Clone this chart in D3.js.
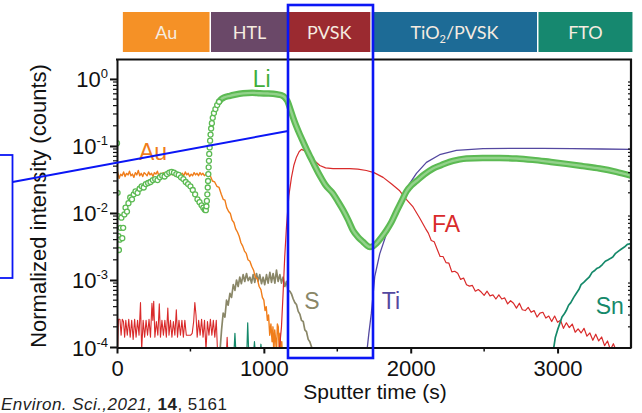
<!DOCTYPE html>
<html><head><meta charset="utf-8">
<script src="https://cdn.jsdelivr.net/npm/d3@7"></script>
<style>
html,body{margin:0;padding:0;background:#fff;}
svg{display:block;}
text{font-family:"Liberation Sans",Arial,sans-serif;}
</style></head>
<body><svg id="c" width="642" height="413"></svg>
<script>
// ---------- data ----------
const layerNames = ["Au","HTL","PVSK","TiO2/PVSK","FTO"];
const layerStart = [40, 640, 1165, 1735, 2870];
const layerEnd   = [630, 1165, 1725, 2860, 3510];
const layerColors = ["#f59126","#6a4868","#9b2a30","#1d6b96","#16886f"];

const xTickValues = [0, 1000, 2000, 3000];
const xMinorTicks = [500, 1500, 2500];
const yTickExps = [0, -1, -2, -3, -4];

const liData = [
 [0,0.11],[4,0.02],[7,0.009],[10,0.0045],[13,0.0028],[18,0.004],[24,0.006],[30,0.0085],[36,0.0042],[42,0.006],
 [50,0.0095],[58,0.012],[68,0.0105],[78,0.014],[90,0.017],[102,0.016],[114,0.019],[126,0.021],[140,0.02],[154,0.023],
 [168,0.025],[182,0.024],[196,0.027],[212,0.028],[228,0.029],[244,0.031],[260,0.032],[276,0.031],[292,0.034],[308,0.036],
 [324,0.035],[340,0.038],[356,0.04],[372,0.041],[388,0.04],[404,0.038],[420,0.037],[436,0.034],[452,0.032],[468,0.029],
 [484,0.027],[500,0.025],[516,0.022],[532,0.019],[548,0.016],[562,0.0145],[576,0.013],[588,0.012],[598,0.0112],
 [605,0.011],[609,0.0126],[612,0.0151],[615,0.019],[618,0.024],[620,0.030],[622,0.038],[624,0.048],[626,0.060],[628,0.076],
 [631,0.095],[634,0.12],[637,0.148],[641,0.182],[646,0.219],[652,0.263],[660,0.309],[670,0.355],[682,0.407],[695,0.457],
 [710,0.50],[730,0.53],[769,0.56],[800,0.58],[859,0.61],[920,0.62],[973,0.61],[1030,0.605],[1086,0.59],[1120,0.57],
 [1143,0.53],[1160,0.47],[1180,0.355],[1200,0.263],[1220,0.20],[1245,0.148],[1270,0.112],[1295,0.085],[1320,0.066],[1345,0.051],
 [1370,0.040],[1395,0.032],[1420,0.026],[1471,0.0195],[1505,0.0148],[1540,0.011],[1575,0.0078],[1607,0.0055],[1640,0.0044],[1676,0.0037],
 [1700,0.0033],[1721,0.0031],[1745,0.0032],[1766,0.0035],[1800,0.0043],[1835,0.0055],[1870,0.0074],[1903,0.0105],[1937,0.0148],[1971,0.021],
 [2005,0.026],[2039,0.030],[2095,0.038],[2152,0.046],[2210,0.052],[2265,0.058],[2320,0.062],[2379,0.065],[2490,0.066],[2605,0.066],
 [2720,0.065],[2832,0.062],[2945,0.058],[3059,0.054],[3170,0.050],[3286,0.046],[3400,0.041],[3500,0.036]
];

const auData = [
 [0,0.045],[5,0.04],[15,0.033],[25,0.038],[35,0.036],[45,0.041],[55,0.035],[65,0.039],[75,0.037],[85,0.042],
 [95,0.036],[105,0.038],[115,0.034],[125,0.04],[135,0.037],[145,0.043],[155,0.036],[165,0.039],[175,0.035],[185,0.04],
 [195,0.038],[205,0.036],[215,0.041],[225,0.037],[235,0.039],[245,0.035],[255,0.04],[265,0.038],[275,0.042],[285,0.036],
 [295,0.039],[305,0.037],[315,0.04],[325,0.035],[335,0.038],[345,0.041],[355,0.036],[365,0.039],[375,0.037],[385,0.04],
 [395,0.036],[405,0.038],[415,0.035],[425,0.04],[435,0.037],[445,0.039],[455,0.036],[465,0.041],[475,0.037],[485,0.039],
 [495,0.035],[505,0.038],[515,0.036],[525,0.04],[535,0.037],[545,0.039],[555,0.036],[565,0.04],[575,0.037],[585,0.039],
 [595,0.036],[605,0.038],[615,0.037],[625,0.039],[635,0.036],
 [650,0.03],[665,0.029],[680,0.025],[695,0.024],[710,0.019],[723,0.016],[735,0.0155],[747,0.012],[760,0.0105],[772,0.0098],
 [784,0.0078],[796,0.0072],[808,0.0058],[820,0.0052],[832,0.0045],[844,0.0036],[856,0.0032],[868,0.0027],[880,0.0025],[892,0.002],
 [905,0.0019],[917,0.0016],[930,0.0014],[942,0.0011],[955,0.00105],[968,0.0008],[980,0.00072],[990,0.00055],[1000,0.0005],[1008,0.00035],
 [1016,0.0004],[1024,0.00025],[1032,0.0003],[1040,0.00015],[1048,0.00022],[1056,0.00012],[1062,0.0002],[1068,0.00008],[1074,0.00018],[1080,0.00013],
 [1086,0.00008],[1092,0.00022],[1098,0.0002],[1104,0.00009],[1110,0.00016],[1116,0.00008],[1122,0.00012],[1128,0.00006]
];

const sData = [
 [700,0.00008],[712,0.00018],[723,0.00032],[735,0.00028],[746,0.0005],[757,0.00042],[769,0.00063],[780,0.00055],[792,0.00085],[803,0.0007],
 [814,0.001],[825,0.0008],[836,0.0011],[847,0.00088],[859,0.0012],[870,0.00095],[882,0.00125],[893,0.00098],[905,0.0011],[916,0.0009],
 [927,0.0012],[938,0.00092],[950,0.00125],[961,0.00096],[972,0.0012],[984,0.00088],[995,0.0011],[1006,0.00085],[1018,0.0012],[1029,0.0009],
 [1041,0.0013],[1052,0.00092],[1063,0.00125],[1075,0.0009],[1086,0.0014],[1097,0.00095],[1109,0.0012],[1120,0.0009],[1131,0.0011],[1143,0.0008],
 [1154,0.00095],[1165,0.0007],[1177,0.00068],[1188,0.00062],[1200,0.00052],[1211,0.00046],[1222,0.00043],[1234,0.00034],[1245,0.00031],[1256,0.00025],
 [1268,0.00024],[1279,0.00018],[1290,0.00017],[1302,0.00013],[1313,0.00012],[1325,0.0001],[1340,0.00008]
];

const faData = [
 [0,0.0025],[4,0.00009],[10,0.00026],[20,0.00026],[28,0.00015],[36,0.00026],[44,0.00024],[52,0.00014],[60,0.00025],[70,0.00015],
 [80,0.00026],[90,0.00014],[100,0.00025],[110,0.00013],[120,0.00026],[130,0.00014],[140,0.00025],[150,0.00015],[160,0.00046],[168,0.00009],
 [178,0.00025],[188,0.00014],[198,0.00025],[208,0.00015],[218,0.00026],[228,0.00014],[238,0.00045],[244,0.00025],[250,0.00048],[258,0.00014],
 [268,0.00024],[278,0.00015],[288,0.00044],[296,0.00014],[306,0.00025],[316,0.00015],[326,0.00025],[336,0.00014],[346,0.00038],[354,0.00015],
 [364,0.00025],[374,0.00014],[384,0.00024],[394,0.00015],[404,0.00036],[412,0.00014],[422,0.00025],[432,0.00015],[442,0.00025],[452,0.00014],
 [462,0.00025],[472,0.00015],[482,0.00015],[492,0.00015],[502,0.00015],[512,0.00016],[522,0.00024],[530,0.00046],[538,0.0003],[546,0.00014],
 [556,0.00025],[566,0.00015],[576,0.00026],[586,0.00014],[596,0.00025],[606,0.00009],[616,0.00024],[626,0.00015],[636,0.00026],[646,0.00015],
 [656,0.00025],[666,0.00014],[676,0.00025],[684,0.00009],[700,0.00009],[746,0.00009],[750,0.00014],[754,0.00009],
 [1105,0.00009],[1120,0.0002],[1131,0.00063],[1142,0.0022],[1154,0.0062],[1170,0.018],[1188,0.034],[1205,0.052],[1222,0.068],[1240,0.082],
 [1256,0.089],[1280,0.084],[1313,0.072],[1345,0.060],[1381,0.051],[1420,0.047],[1471,0.046],[1530,0.046],[1585,0.046],[1640,0.045],
 [1698,0.043],[1750,0.040],[1812,0.034],[1870,0.027],[1925,0.0214],[1970,0.016],[2016,0.0123],[2060,0.0085],[2100,0.0059],
 [2120,0.0050],[2140,0.00389],[2160,0.00372],[2180,0.00288],[2200,0.00224],[2220,0.00224],[2240,0.00182],[2260,0.00178],[2280,0.00132],[2300,0.00135],
 [2320,0.00126],[2340,0.00102],[2360,0.00107],[2380,0.00085],[2400,0.00081],[2420,0.00083],[2440,0.00068],[2460,0.00072],[2480,0.00066],[2500,0.00059],
 [2520,0.00068],[2540,0.00058],[2560,0.0006],[2580,0.00052],[2600,0.0006],[2620,0.00052],[2640,0.00054],[2660,0.00044],[2680,0.00049],[2700,0.00045],
 [2720,0.00038],[2740,0.00045],[2760,0.00036],[2780,0.00035],[2800,0.00039],[2820,0.00033],[2840,0.00035],[2860,0.00028],[2880,0.00032],[2900,0.00033],
 [2920,0.00027],[2940,0.00029],[2960,0.00024],[2980,0.00029],[3000,0.000234],[3020,0.00025],[3040,0.00019],[3060,0.00023],[3080,0.000195],[3100,0.00022],
 [3120,0.000166],[3140,0.000186],[3160,0.000162],[3180,0.00019],[3200,0.000145],[3220,0.000162],[3240,0.000126],[3260,0.000155],[3280,0.000123],[3300,0.000141],
 [3320,0.000105],[3340,0.000123],[3360,0.000091],[3380,0.000112],[3400,0.000087]
];

const tiData = [
 [1700,0.00008],[1715,0.00016],[1732,0.00032],[1755,0.00112],[1789,0.00245],[1835,0.0049],[1880,0.0092],[1925,0.0155],[1959,0.0204],[1990,0.027],
 [2039,0.039],[2107,0.057],[2197,0.074],[2311,0.086],[2492,0.091],[2700,0.092],[2900,0.092],[3100,0.091],[3300,0.090],[3500,0.089]
];

const snData = [
 [2968,0.00008],[2985,0.00014],[3000,0.00018],[3014,0.00022],[3030,0.00028],[3045,0.00031],[3059,0.00035],[3075,0.00042],[3090,0.00046],[3110,0.00055],
 [3127,0.00063],[3145,0.00072],[3160,0.00085],[3178,0.00092],[3195,0.001],[3215,0.0011],[3235,0.0013],[3255,0.0014],[3270,0.0015],[3286,0.00155],
 [3305,0.0017],[3325,0.0019],[3345,0.002],[3360,0.0021],[3376,0.0022],[3395,0.0025],[3415,0.0027],[3435,0.0029],[3455,0.0031],[3475,0.0034],[3500,0.0035]
];
const snEarly = [
 [796,0.00008],[803,0.00016],[810,0.00008],[884,0.00008],[890,0.00023],[897,0.00008],[930,0.00008],[936,0.00012],[942,0.00008],[975,0.00008],[980,0.00011],[986,0.00008]
];

const labels = [
 {text:"Li", t:985, v:0.76, color:"#3fae3a"},
 {text:"Au", t:245, v:0.062, color:"#f07d1a"},
 {text:"S",  t:1327, v:0.00037, color:"#8a8768"},
 {text:"Ti", t:1865, v:0.00037, color:"#5448a0"},
 {text:"FA", t:2240, v:0.0052, color:"#d92b2b"},
 {text:"Sn", t:3356, v:0.00031, color:"#15896a"}
];

// ---------- chart ----------
const svg = d3.select("#c");
const x = d3.scaleLinear().domain([0, 3500]).range([117, 631]);
const y = d3.scaleLog().domain([1e-4, 1.95]).range([347, 59.5]);

svg.append("defs").append("clipPath").attr("id","clip")
  .append("rect").attr("x",117).attr("y",59.5).attr("width",514).attr("height",288);

// layer band
const band = svg.append("g");
layerNames.forEach((n,i)=>{
  const x0 = x(layerStart[i]), x1 = x(layerEnd[i]);
  band.append("rect").attr("x",x0).attr("y",12).attr("width",x1-x0).attr("height",40).attr("fill",layerColors[i]);
  const t = band.append("text").attr("x",(x0+x1)/2).attr("y",39).attr("text-anchor","middle")
    .attr("fill","#f6ece0").style("font-family","Lato, 'Open Sans', sans-serif").style("font-size","18px");
  if (n.startsWith("TiO2")) {
    t.append("tspan").text("TiO");
    t.append("tspan").text("2").attr("dy",4).style("font-size","11px");
    t.append("tspan").text("/PVSK").attr("dy",-4);
  } else t.text(n);
});

const g = svg.append("g").attr("clip-path","url(#clip)");
const line = d3.line().x(d=>x(d[0])).y(d=>y(d[1]));

function series(data, color, w) {
  g.append("path").datum(data).attr("d", line).attr("fill","none")
   .attr("stroke", color).attr("stroke-width", w).attr("stroke-linejoin","round");
}
series(faData.filter(d=>d[0]<800), "#d92b2b", 1.1);
series(snEarly, "#15896a", 1.2);
series(sData, "#8a8768", 1.7);
series(auData, "#f07d1a", 1.4);
series(faData.filter(d=>d[0]>=1100), "#d92b2b", 1.2);
series(snData, "#15896a", 1.7);
series(tiData, "#5448a0", 1.3);

// Li: dense part as thick band, sparse part as open circles
const liDense = liData.filter(d=>d[0]>=690);
const smooth = d3.line().x(d=>x(d[0])).y(d=>y(d[1])).curve(d3.curveMonotoneX);
g.append("path").datum(liDense).attr("d", smooth).attr("fill","none")
  .attr("stroke","#5cba53").attr("stroke-width",6.5).attr("stroke-linecap","round");
g.append("path").datum(liDense).attr("d", smooth).attr("fill","none")
  .attr("stroke","#93d28b").attr("stroke-width",2.4).attr("stroke-linecap","round");
g.selectAll("circle.li").data(liData.filter(d=>d[0]<700)).enter().append("circle")
  .attr("cx",d=>x(d[0])).attr("cy",d=>y(d[1])).attr("r",2.5)
  .attr("fill","#fff").attr("stroke","#5cba53").attr("stroke-width",1.3);

// axes frame
svg.append("line").attr("x1",116).attr("x2",632).attr("y1",59.5).attr("y2",59.5).attr("stroke","#111").attr("stroke-width",2);
svg.append("line").attr("x1",631).attr("x2",631).attr("y1",59).attr("y2",348).attr("stroke","#111").attr("stroke-width",2.2);

const xAxis = svg.append("g").attr("transform","translate(0,347.5)")
  .call(d3.axisBottom(x).tickValues(xTickValues).tickSize(6).tickFormat(d3.format("d")).tickSizeOuter(0));
xAxis.select(".domain").attr("stroke-width",2).attr("stroke","#111");
xAxis.selectAll(".tick line").attr("stroke-width",2).attr("stroke","#111");
xAxis.selectAll("text").style("font-size","22px").attr("fill","#111").attr("dy","0").attr("y",28);
xMinorTicks.forEach(t=>svg.append("line").attr("x1",x(t)).attr("x2",x(t)).attr("y1",347.5).attr("y2",351.5).attr("stroke","#111").attr("stroke-width",1.5));

// y axis
const yAxis = svg.append("g").attr("transform","translate(117,0)")
  .call(d3.axisLeft(y).tickValues(yTickExps.map(e=>Math.pow(10,e))).tickSize(7).tickFormat("").tickSizeOuter(0));
yAxis.select(".domain").attr("stroke-width",2).attr("stroke","#111");
yAxis.selectAll(".tick line").attr("stroke-width",2).attr("stroke","#111");
const minor = [];
yTickExps.forEach(e=>{ if (e<0) for (let k=2;k<=9;k++) minor.push(k*Math.pow(10,e)); });
minor.forEach(v=>{
  svg.append("line").attr("x1",113).attr("x2",117).attr("y1",y(v)).attr("y2",y(v)).attr("stroke","#111").attr("stroke-width",1.2);
  svg.append("line").attr("x1",628).attr("x2",631).attr("y1",y(v)).attr("y2",y(v)).attr("stroke","#111").attr("stroke-width",1.2);
});
yTickExps.forEach(e=>{
  const t = svg.append("text").attr("x",108).attr("y",y(Math.pow(10,e))+8.5).attr("text-anchor","end").attr("fill","#111").style("font-size","22px");
  t.append("tspan").text("10");
  t.append("tspan").text(e===0?"0":"-"+(-e)).attr("dy",-9).style("font-size","13px");
});

// titles
svg.append("text").attr("x",375).attr("y",399).attr("text-anchor","middle").attr("fill","#111")
  .style("font-size","21px").text("Sputter time (s)");
svg.append("text").attr("transform","translate(46,206) rotate(-90)").attr("text-anchor","middle").attr("fill","#111")
  .style("font-size","22px").text("Normalized intensity (counts)");

// series labels
labels.forEach(l=>svg.append("text").attr("x",x(l.t)).attr("y",y(l.v)).attr("text-anchor","middle")
  .attr("fill",l.color).style("font-size","23px").text(l.text));

// citation
const cite = svg.append("text").attr("x",1).attr("y",410).attr("fill","#222")
  .attr("textLength",226).attr("lengthAdjust","spacing")
  .style("font-size","17px").style("font-style","italic");
cite.append("tspan").text("Environ. Sci.,2021, ");
cite.append("tspan").text("14").style("font-weight","bold").style("font-style","normal");
cite.append("tspan").text(", 5161").style("font-style","normal");

// blue annotation
svg.append("rect").attr("x",288).attr("y",5).attr("width",85).attr("height",353).attr("fill","none").attr("stroke","#0b16f5").attr("stroke-width",2.6);
svg.append("rect").attr("x",-10).attr("y",155).attr("width",22.5).attr("height",123).attr("fill","none").attr("stroke","#0b16f5").attr("stroke-width",1.8);
svg.append("line").attr("x1",12.5).attr("y1",182).attr("x2",288).attr("y2",131).attr("stroke","#0b16f5").attr("stroke-width",2);
</script></body></html>
